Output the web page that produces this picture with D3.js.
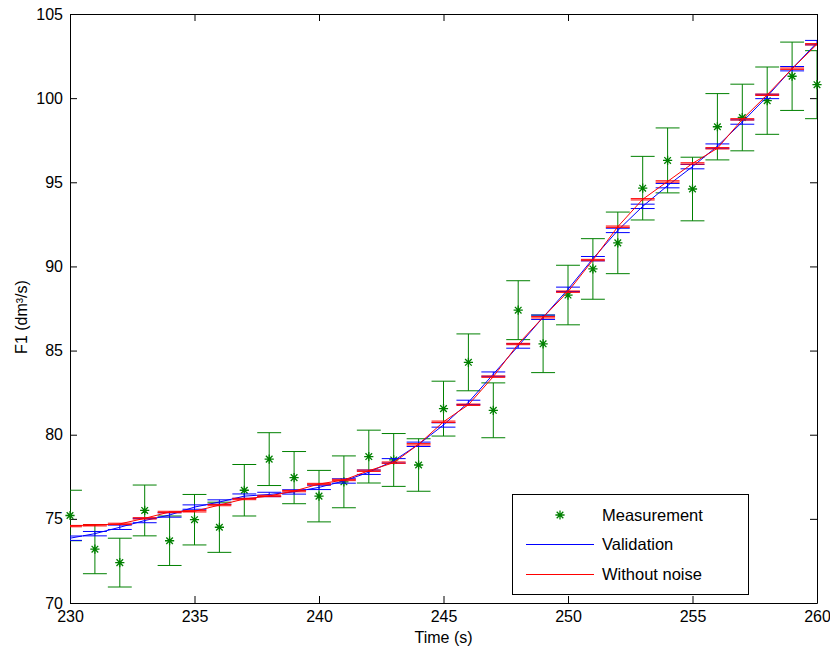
<!DOCTYPE html>
<html>
<head>
<meta charset="utf-8">
<script src="https://cdn.jsdelivr.net/npm/d3@7/dist/d3.min.js"></script>
<style>
  html, body { margin: 0; padding: 0; background: #fff; }
  svg { display: block; font-family: "Liberation Sans", Arial, Helvetica, sans-serif; }
</style>
</head>
<body>
<svg id="chart" width="830" height="651"></svg>
<script>
// Sample times (s)
const times = [230, 231, 232, 233, 234, 235, 236, 237, 238, 239, 240,
               241, 242, 243, 244, 245, 246, 247, 248, 249, 250,
               251, 252, 253, 254, 255, 256, 257, 258, 259, 260];

// Measured flow F1 (dm³/s) and its error bar half-width
const measurement = [75.2, 73.2, 72.4, 75.5, 73.7, 74.95, 74.5, 76.7, 78.55, 77.45, 76.35,
                     77.2, 78.7, 78.5, 78.2, 81.55, 84.3, 81.45, 87.4, 85.4, 88.3,
                     89.85, 91.4, 94.65, 96.3, 94.6, 98.3, 98.85, 99.85, 101.3, 100.8];
const measurementErr = [1.50, 1.46, 1.45, 1.51, 1.47, 1.50, 1.49, 1.53, 1.57, 1.55, 1.53,
                        1.54, 1.57, 1.57, 1.56, 1.63, 1.69, 1.63, 1.75, 1.71, 1.77,
                        1.80, 1.83, 1.89, 1.93, 1.89, 1.97, 1.98, 2.00, 2.03, 2.02];

// Validation estimate and its error bar half-width
const validation = [73.85, 74.12, 74.5, 74.9, 75.23, 75.7, 76.0, 76.35, 76.45, 76.6, 76.87,
                    77.25, 77.77, 78.45, 79.43, 80.58, 81.92, 83.6, 85.27, 86.98, 88.64,
                    90.46, 92.14, 93.57, 94.8, 95.93, 97.15, 98.58, 100.1, 101.75, 103.3];
const validationErr = [0.13, 0.13, 0.13, 0.13, 0.13, 0.13, 0.13, 0.13, 0.13, 0.13, 0.13,
                       0.13, 0.13, 0.13, 0.13, 0.13, 0.13, 0.13, 0.13, 0.13, 0.13,
                       0.13, 0.13, 0.13, 0.13, 0.13, 0.13, 0.13, 0.13, 0.13, 0.13];

// Noise-free estimate and its error bar half-width
const withoutNoise = [74.57, 74.62, 74.7, 75.03, 75.41, 75.45, 75.82, 76.18, 76.36, 76.65, 77.07,
                      77.31, 77.86, 78.34, 79.43, 80.77, 81.78, 83.45, 85.39, 86.98, 88.5,
                      90.38, 92.36, 93.99, 95.05, 96.12, 97.02, 98.74, 100.2, 101.75, 103.2];
const withoutNoiseErr = [0.04, 0.04, 0.04, 0.04, 0.04, 0.04, 0.04, 0.04, 0.04, 0.04, 0.04,
                         0.04, 0.04, 0.04, 0.04, 0.04, 0.04, 0.04, 0.04, 0.04, 0.04,
                         0.04, 0.04, 0.04, 0.04, 0.04, 0.04, 0.04, 0.04, 0.04, 0.04];

const xTicks = [230, 235, 240, 245, 250, 255, 260];
const yTicks = [70, 75, 80, 85, 90, 95, 100, 105];
const legendLabels = ["Measurement", "Validation", "Without noise"];

const GREEN = "#008000", BLUE = "#0000ff", RED = "#ff0000";

const plot = { left: 70, right: 817, top: 14, bottom: 603 };
const x = d3.scaleLinear().domain([230, 260]).range([plot.left, plot.right]);
const y = d3.scaleLinear().domain([70, 105]).range([plot.bottom, plot.top]);
const capHalf = 0.48; // cap half-width in time units

const svg = d3.select("#chart");

svg.append("defs").append("clipPath").attr("id", "plotClip")
  .append("rect")
  .attr("x", plot.left).attr("y", plot.top)
  .attr("width", plot.right - plot.left).attr("height", plot.bottom - plot.top);

// Axes with inward ticks on all four sides
const tickLen = 7;
const axisStyle = g => {
  g.select(".domain").attr("stroke", "#000").attr("stroke-width", 1);
  g.selectAll(".tick line").attr("stroke", "#000");
  g.selectAll(".tick text").attr("fill", "#000").style("font-size", "16px");
};

svg.append("g")
  .attr("transform", `translate(0,${plot.bottom})`)
  .call(d3.axisBottom(x).tickValues(xTicks).tickFormat(d3.format("d"))
        .tickSizeInner(-tickLen).tickSizeOuter(0).tickPadding(8))
  .call(axisStyle);

svg.append("g")
  .attr("transform", `translate(0,${plot.top})`)
  .call(d3.axisTop(x).tickValues(xTicks).tickFormat("")
        .tickSizeInner(-tickLen).tickSizeOuter(0))
  .call(axisStyle);

svg.append("g")
  .attr("transform", `translate(${plot.left},0)`)
  .call(d3.axisLeft(y).tickValues(yTicks).tickFormat(d3.format("d"))
        .tickSizeInner(-tickLen).tickSizeOuter(0).tickPadding(7))
  .call(axisStyle);

svg.append("g")
  .attr("transform", `translate(${plot.right},0)`)
  .call(d3.axisRight(y).tickValues(yTicks).tickFormat("")
        .tickSizeInner(-tickLen).tickSizeOuter(0))
  .call(axisStyle);

svg.selectAll("g").attr("font-family", null);

// Axis titles
svg.append("text")
  .attr("x", 443.5).attr("y", 643)
  .attr("text-anchor", "middle")
  .style("font-size", "16px")
  .text("Time (s)");

svg.append("text")
  .attr("transform", "translate(26.5,317) rotate(-90)")
  .attr("text-anchor", "middle")
  .style("font-size", "16px")
  .text("F1 (dm³/s)");

// Error bars: vertical stem plus top and bottom caps
function errorBars(g, values, errs, color) {
  const rows = times.map((t, i) => ({ t, v: values[i], e: errs[i] }));
  const path = d => {
    const x0 = x(d.t - capHalf), x1 = x(d.t + capHalf), xc = x(d.t);
    const yt = y(d.v + d.e), yb = y(d.v - d.e);
    return `M${xc},${yt}V${yb}M${x0},${yt}H${x1}M${x0},${yb}H${x1}`;
  };
  g.append("g").attr("clip-path", "url(#plotClip)")
    .selectAll("path").data(rows).join("path")
    .attr("d", path)
    .attr("fill", "none").attr("stroke", color).attr("stroke-width", 1);
}

function seriesLine(g, values, color) {
  const line = d3.line().x((d, i) => x(times[i])).y(d => y(d));
  g.append("path")
    .attr("clip-path", "url(#plotClip)")
    .attr("d", line(values))
    .attr("fill", "none").attr("stroke", color).attr("stroke-width", 1);
}

// Asterisk marker
function starPath(cx, cy, r) {
  const d = r * 0.72;
  return `M${cx - r},${cy}H${cx + r}M${cx},${cy - r}V${cy + r}` +
         `M${cx - d},${cy - d}L${cx + d},${cy + d}M${cx - d},${cy + d}L${cx + d},${cy - d}`;
}

const data = svg.append("g");

// Measurements
errorBars(data, measurement, measurementErr, GREEN);
data.append("g").selectAll("path").data(measurement).join("path")
  .attr("d", (v, i) => starPath(x(times[i]), y(v), 4.6))
  .attr("fill", "none").attr("stroke", GREEN).attr("stroke-width", 1.3);

// Validation
errorBars(data, validation, validationErr, BLUE);
seriesLine(data, validation, BLUE);

// Without noise
errorBars(data, withoutNoise, withoutNoiseErr, RED);
seriesLine(data, withoutNoise, RED);

// Legend
const legend = svg.append("g");
legend.append("rect")
  .attr("x", 512.5).attr("y", 494.5).attr("width", 236).attr("height", 100)
  .attr("fill", "#fff").attr("stroke", "#000").attr("stroke-width", 1);

const rowY = [515, 544.5, 574.5];
legend.append("path")
  .attr("d", starPath(560, rowY[0], 4.6))
  .attr("fill", "none").attr("stroke", GREEN).attr("stroke-width", 1.3);
legend.append("line")
  .attr("x1", 526).attr("x2", 594).attr("y1", rowY[1]).attr("y2", rowY[1])
  .attr("stroke", BLUE).attr("stroke-width", 1);
legend.append("line")
  .attr("x1", 526).attr("x2", 594).attr("y1", rowY[2]).attr("y2", rowY[2])
  .attr("stroke", RED).attr("stroke-width", 1);

legend.selectAll("text.label").data(legendLabels).join("text")
  .attr("class", "label")
  .attr("x", 602)
  .attr("y", (d, i) => rowY[i] + 5.8)
  .style("font-size", "16.5px")
  .attr("fill", "#000")
  .text(d => d);
</script>
</body>
</html>
